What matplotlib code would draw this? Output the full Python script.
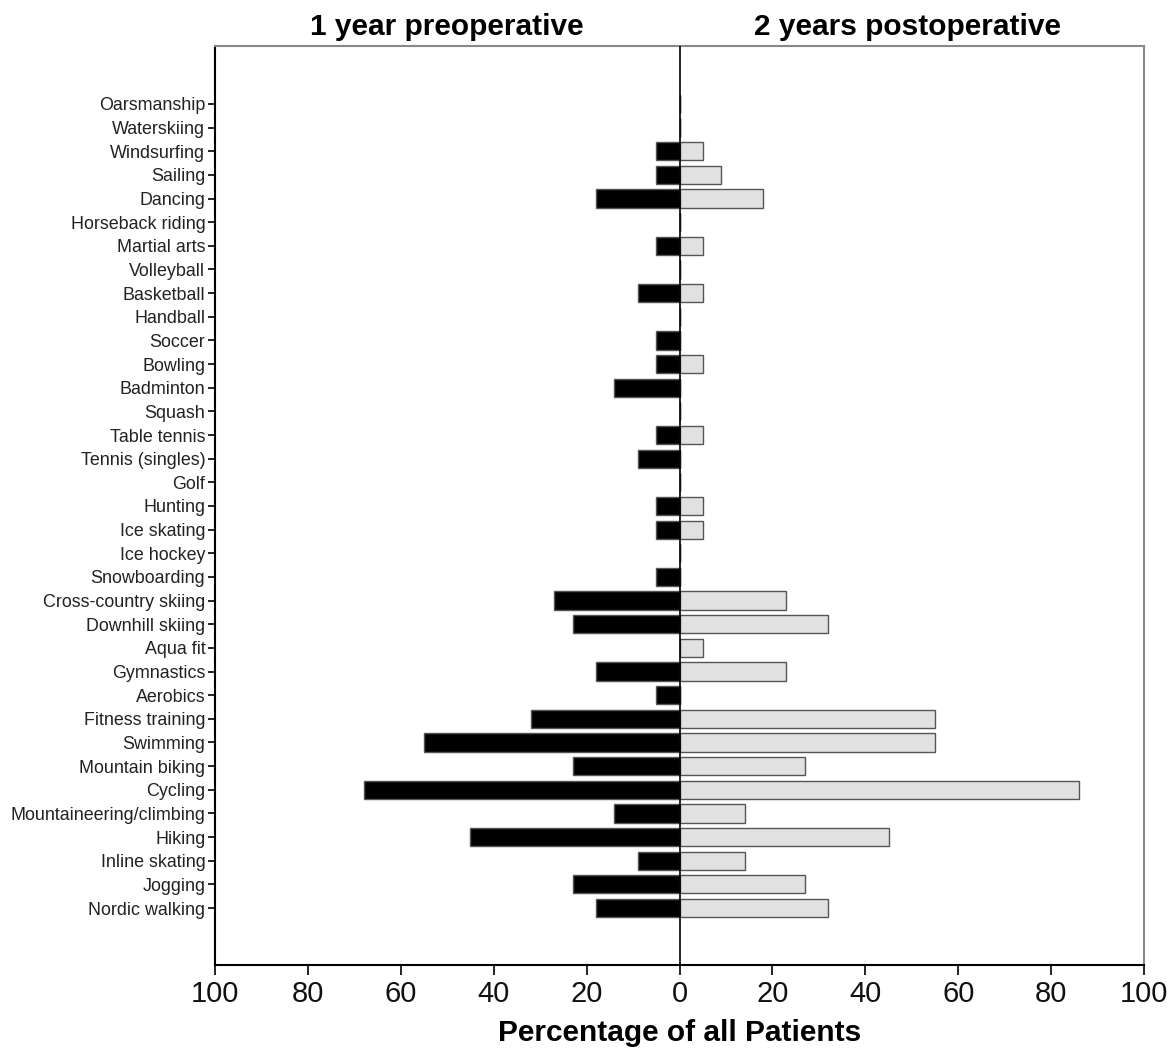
import matplotlib
matplotlib.use("Agg")
import matplotlib.pyplot as plt
import matplotlib.transforms as mtransforms
from matplotlib import font_manager
import numpy as np

# ---- data (top to bottom as in the chart) ----
sports = ["Oarsmanship", "Waterskiing", "Windsurfing", "Sailing", "Dancing",
          "Horseback riding", "Martial arts", "Volleyball", "Basketball", "Handball",
          "Soccer", "Bowling", "Badminton", "Squash", "Table tennis",
          "Tennis (singles)", "Golf", "Hunting", "Ice skating", "Ice hockey",
          "Snowboarding", "Cross-country skiing", "Downhill skiing", "Aqua fit",
          "Gymnastics", "Aerobics", "Fitness training", "Swimming",
          "Mountain biking", "Cycling", "Mountaineering/climbing", "Hiking",
          "Inline skating", "Jogging", "Nordic walking"]
preop = [0, 0, 5, 5, 18, 0, 5, 0, 9, 0, 5, 5, 14, 0, 5, 9, 0, 5, 5, 0, 5,
         27, 23, 0, 18, 5, 32, 55, 23, 68, 14, 45, 9, 23, 18]
postop = [0, 0, 5, 9, 18, 0, 5, 0, 5, 0, 0, 5, 0, 0, 5, 0, 0, 5, 5, 0, 0,
          23, 32, 5, 23, 0, 55, 55, 27, 86, 14, 45, 14, 27, 32]
xticks = [-100, -80, -60, -40, -20, 0, 20, 40, 60, 80, 100]
xticklabels = ["100", "80", "60", "40", "20", "0", "20", "40", "60", "80", "100"]
title_left = "1 year preoperative"
title_right = "2 years postoperative"
xlabel = "Percentage of all Patients"

avail = {f.name for f in font_manager.fontManager.ttflist}
narrow = "Liberation Sans Narrow" if "Liberation Sans Narrow" in avail else "Liberation Sans"
plt.rcParams["font.family"] = ["Liberation Sans", "DejaVu Sans"]

fig = plt.figure(figsize=(11.73, 10.49), dpi=100)
ax = fig.add_axes([215 / 1173, 1 - 965 / 1049, (1144 - 215) / 1173, (965 - 46) / 1049])

n = len(sports)
y = np.arange(n)[::-1]  # top item has highest y
h = 0.77
ax.barh(y, [-v for v in preop], height=h, color="black", edgecolor="#555555", linewidth=1.0, zorder=2)
ax.barh(y, postop, height=h, color="#e1e1e1", edgecolor="#555555", linewidth=1.0, zorder=2)
ax.axvline(0, color="black", linewidth=1.2, zorder=3)

ax.set_xlim(-100, 100)
ax.set_ylim(-2.41, n - 1 + 2.45)
ax.set_yticks(y)
ax.set_yticklabels(sports, fontsize=12.9, color="#222222")
ax.set_xticks(xticks)
xfs = 21 if narrow == "Liberation Sans" else 24
ax.set_xticklabels(xticklabels, fontsize=xfs, family=[narrow, "DejaVu Sans"], color="#111111")
ax.tick_params(axis="x", direction="out", length=7, width=1.2, pad=4)
ax.tick_params(axis="y", direction="out", length=5, width=1.2, pad=2)

for side in ["left", "bottom"]:
    ax.spines[side].set_color("black")
    ax.spines[side].set_linewidth(1.5)
for side in ["top", "right"]:
    ax.spines[side].set_color("#888888")
    ax.spines[side].set_linewidth(1.5)

ax.set_xlabel(xlabel, fontsize=21.5, fontweight="bold", labelpad=8)

trans = mtransforms.blended_transform_factory(ax.transData, fig.transFigure)
ax.text(-50, 1 - 35 / 1049, title_left, transform=trans, ha="center", va="baseline",
        fontsize=21.5, fontweight="bold")
ax.text(49, 1 - 35 / 1049, title_right, transform=trans, ha="center", va="baseline",
        fontsize=21.5, fontweight="bold")

fig.savefig("out.png", dpi=100)
